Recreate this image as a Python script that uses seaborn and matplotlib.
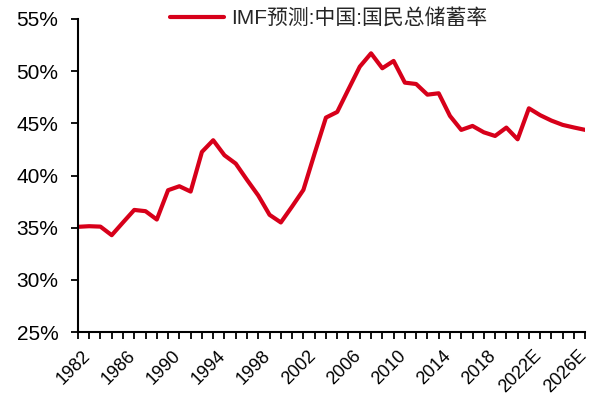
import numpy as np
import pandas as pd
import matplotlib
matplotlib.use('Agg')
import matplotlib.pyplot as plt
import matplotlib.transforms as mtransforms
import seaborn as sns
from matplotlib.ticker import FuncFormatter

# ---------- dados ----------
anos = list(range(1982, 2028))
rotulos = [f'{a}E' if a >= 2022 else str(a) for a in anos]
poupanca = [35.08, 35.14, 35.10, 34.28, 35.50, 36.70, 36.58, 35.78, 38.59, 38.97,
            38.46, 42.26, 43.38, 41.94, 41.14, 39.58, 38.08, 36.23, 35.50, 37.03,
            38.62, 42.13, 45.55, 46.09, 48.27, 50.43, 51.71, 50.28, 50.98, 48.90,
            48.77, 47.75, 47.88, 45.71, 44.37, 44.75, 44.14, 43.79, 44.59, 43.47,
            46.44, 45.78, 45.26, 44.85, 44.60, 44.37]
serie = 'IMF预测:中国:国民总储蓄率'

df = pd.DataFrame({'pos': np.arange(len(anos)), 'valor': poupanca})

sns.set_style('white')
plt.rcParams['font.family'] = ['Liberation Sans', 'Noto Sans CJK SC', 'DejaVu Sans']

fig = plt.figure(figsize=(5.9, 4.0), dpi=100)
ax = fig.add_axes([0.132, 0.17, 0.86, 0.7825])

sns.lineplot(data=df, x='pos', y='valor', color='#D7001A', linewidth=3.0,
             label=serie, ax=ax, legend=False)

ax.set_xlim(0, len(anos) - 1)
ax.set_ylim(25, 55)
ax.set_yticks(np.arange(25, 56, 5))
ax.yaxis.set_major_formatter(FuncFormatter(lambda v, p: f'{v:.0f}%'))
ax.set_xticks(np.arange(len(anos)))
ax.set_xticklabels([r if i % 4 == 0 else '' for i, r in enumerate(rotulos)],
                   rotation=45, ha='right', rotation_mode='anchor')
ax.set_xlabel('')
ax.set_ylabel('')

for s in ['top', 'right']:
    ax.spines[s].set_visible(False)
for s in ['left', 'bottom']:
    ax.spines[s].set_color('black')
    ax.spines[s].set_linewidth(1.5)
ax.tick_params(axis='both', direction='out', length=5, width=1.3, color='black',
               labelcolor='black', left=True, bottom=True)
ax.tick_params(axis='y', labelsize=15, pad=9)
ax.tick_params(axis='x', labelsize=13, pad=6)

# desloca rótulos do eixo x um pouco para a direita, como no original
desloc = mtransforms.ScaledTranslation(4 / 100, 0, fig.dpi_scale_trans)
for lbl in ax.get_xticklabels():
    lbl.set_transform(lbl.get_transform() + desloc)

handles, labels = ax.get_legend_handles_labels()
fig.legend(handles, labels, loc='center', bbox_to_anchor=(0.557, 0.955),
           frameon=False, fontsize=15, handlelength=2.6, handletextpad=0.3)

fig.savefig('out.png', dpi=100)
